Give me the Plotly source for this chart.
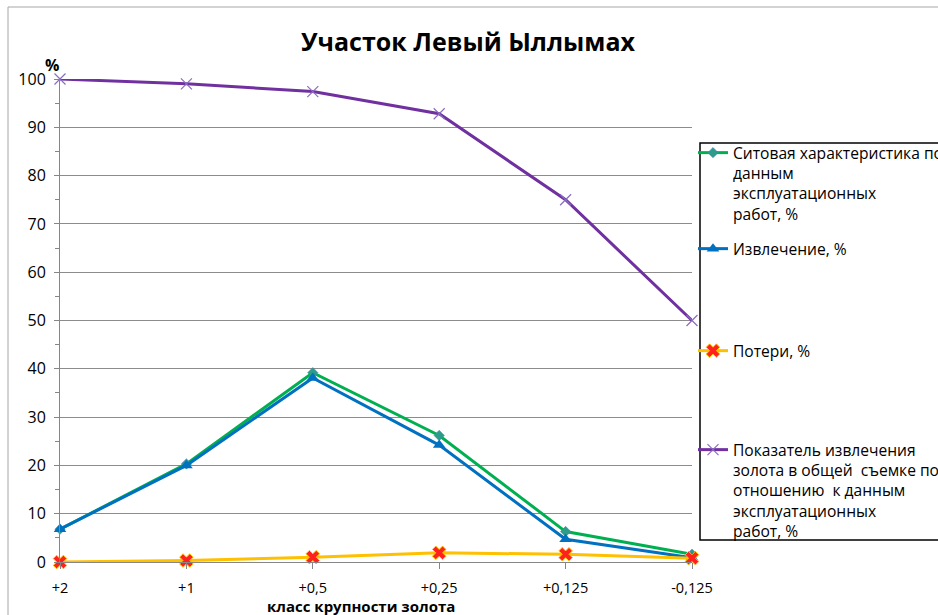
import plotly.graph_objects as go

# Size classes of gold (mm) and measured shares, %
size_classes = ["+2", "+1", "+0,5", "+0,25", "+0,125", "-0,125"]
sieve_share = [6.8, 20.3, 39.2, 26.2, 6.3, 1.6]
recovery = [6.8, 20.0, 38.1, 24.2, 4.7, 0.9]
losses = [0.0, 0.3, 1.0, 1.9, 1.6, 0.8]
recovery_index = [100.0, 99.0, 97.4, 92.8, 75.0, 50.0]

series_names = [
    "Ситовая характеристика по<br>данным<br>эксплуатационных<br>работ, %",
    "Извлечение, %",
    "Потери, %",
    "Показатель извлечения<br>золота в общей  съемке по<br>отношению  к данным<br>эксплуатационных<br>работ, %",
]

FONT = "Open Sans"
W, H = 938, 615
L, R, T, B = 60, 246, 79, 53
PW, PH = W - L - R, H - T - B


def px_x(x):
    return (x - L) / PW


def px_y(y):
    return (H - B - y) / PH


def legend_box(top_px):
    return dict(
        x=px_x(693), xanchor="left", y=px_y(top_px), yanchor="top",
        borderwidth=0, bgcolor="rgba(0,0,0,0)", valign="top",
        font=dict(family=FONT, size=15.6, color="black"), itemwidth=30,
    )


fig = go.Figure()

fig.add_trace(go.Scatter(
    x=size_classes, y=sieve_share, name=series_names[0], mode="lines+markers",
    line=dict(color="#00B050", width=3),
    marker=dict(symbol="diamond", size=8, color="#2E9C8A", line=dict(color="#4A7EBB", width=0.5)),
    cliponaxis=False, legend="legend",
))
fig.add_trace(go.Scatter(
    x=size_classes, y=recovery, name=series_names[1], mode="lines+markers",
    line=dict(color="#0070C0", width=3),
    marker=dict(symbol="triangle-up", size=11, color="#0070C0"),
    cliponaxis=False, legend="legend2",
))
fig.add_trace(go.Scatter(
    x=size_classes, y=losses, name=series_names[2], mode="lines+markers",
    line=dict(color="#FFC000", width=3),
    marker=dict(symbol="x", size=12, color="#FF2020", line=dict(color="#FFC000", width=1)),
    cliponaxis=False, legend="legend3",
))
fig.add_trace(go.Scatter(
    x=size_classes, y=recovery_index, name=series_names[3], mode="lines+markers",
    line=dict(color="#7030A0", width=3),
    marker=dict(symbol="x-thin", size=11, color="#8064A2", line=dict(color="#8A6CC0", width=1.2)),
    cliponaxis=False, legend="legend4",
))

fig.update_layout(
    width=W, height=H,
    margin=dict(l=L, r=R, t=T, b=B, autoexpand=False),
    paper_bgcolor="white", plot_bgcolor="white",
    font=dict(family=FONT, size=14, color="black"),
    title=dict(text="<b>Участок Левый Ыллымах</b>", x=468 / W, xanchor="center",
               y=1 - 42 / H, yanchor="middle",
               font=dict(family=FONT, size=25, color="black")),
    showlegend=True,
    legend=legend_box(136),
    legend2=legend_box(232),
    legend3=legend_box(334),
    legend4=legend_box(433),
    xaxis=dict(
        type="category", range=[0, 5], showgrid=False, zeroline=False,
        showline=True, linecolor="#868686", linewidth=1,
        ticks="outside", ticklen=6, tickcolor="#868686",
        tickfont=dict(family=FONT, size=14.5), ticklabelstandoff=7,
    ),
    yaxis=dict(
        range=[0, 100], dtick=10, showgrid=True, gridcolor="#8C8C8C", gridwidth=1,
        zeroline=False, showline=True, linecolor="#868686", linewidth=1,
        ticks="outside", ticklen=5, tickcolor="#868686",
        minor=dict(dtick=5, ticks="outside", ticklen=4, tickcolor="#868686", showgrid=False),
        tickfont=dict(family=FONT, size=16), ticklabelstandoff=5,
    ),
    shapes=[
        # outer chart frame
        dict(type="rect", xref="paper", yref="paper",
             x0=px_x(8), x1=px_x(W + 20), y0=px_y(H + 20), y1=px_y(7),
             line=dict(color="#A6A6A6", width=1), fillcolor="rgba(0,0,0,0)", layer="below"),
        # legend frame
        dict(type="rect", xref="paper", yref="paper",
             x0=px_x(700), x1=px_x(W + 20), y0=px_y(540), y1=px_y(143),
             line=dict(color="black", width=1.5), fillcolor="white", layer="below"),
    ],
    annotations=[
        dict(text="<b>%</b>", xref="paper", yref="paper",
             x=px_x(52), y=px_y(65), xanchor="center", yanchor="middle", showarrow=False,
             font=dict(family=FONT, size=16, color="black")),
        dict(text="<b>класс крупности золота</b>", xref="paper", yref="paper",
             x=px_x(361), y=px_y(606), xanchor="center", yanchor="middle", showarrow=False,
             font=dict(family=FONT, size=15, color="black")),
    ],
)

fig.write_html("out.html")
